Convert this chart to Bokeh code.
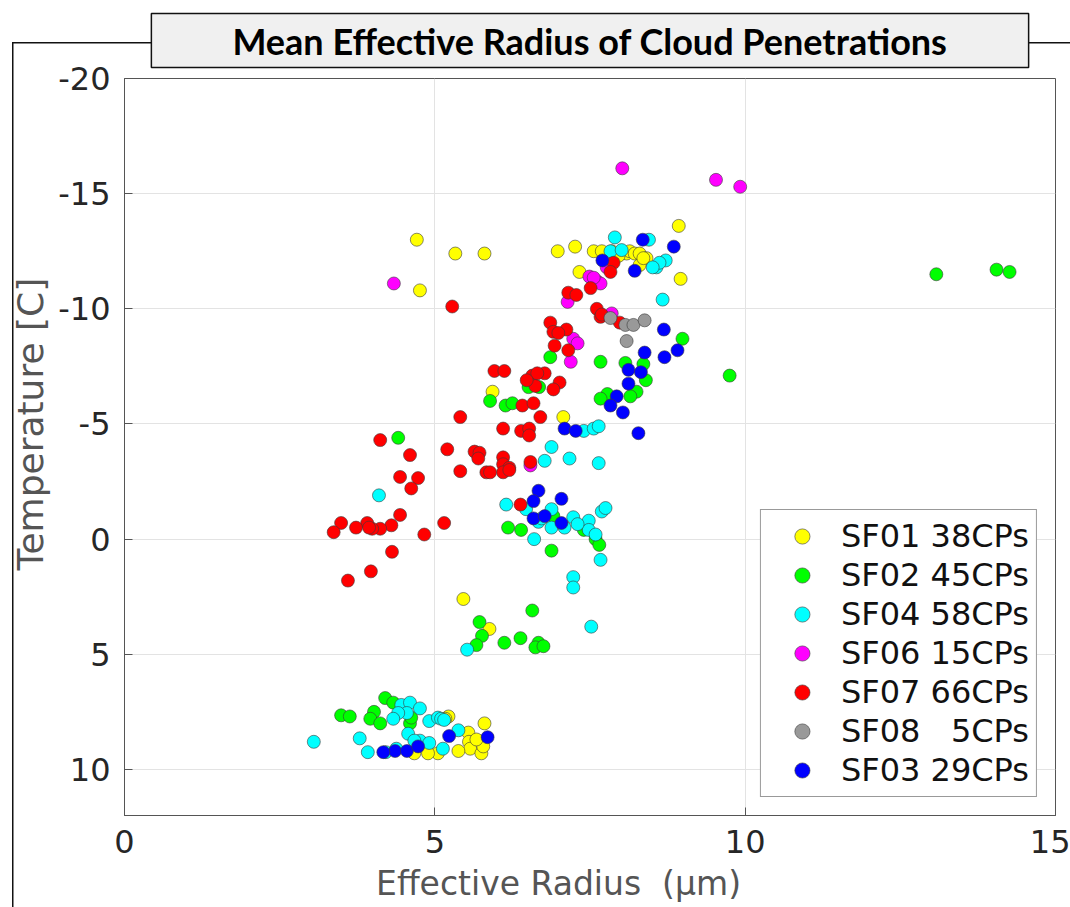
from bokeh.plotting import figure
from bokeh.models import Range1d, FixedTicker, Legend, LegendItem
from bokeh.embed import file_html
from bokeh.resources import INLINE

# ---------------- data (effective radius [um], temperature [C]) ----------------
sf01_x = [4.71, 4.76, 5.33, 5.80, 6.98, 7.26, 7.33, 7.56, 7.69, 8.01, 8.09, 8.14, 8.22, 8.30,
          8.41, 8.30, 8.93, 8.96, 7.07, 5.93, 5.46, 5.88, 5.22, 5.80, 5.54, 5.55, 5.57, 5.75,
          5.78, 5.05, 4.89, 4.67, 5.17, 7.85, 7.96, 5.38, 5.67, 8.36]
sf01_y = [-13.0, -10.8, -12.4, -12.4, -12.5, -12.7, -11.6, -12.5, -12.5, -12.4, -12.4, -12.5,
          -12.4, -12.4, -12.2, -11.9, -13.6, -11.3, -5.3, -6.4, 2.6, 3.9, 7.7, 8.0, 8.4, 8.8,
          9.1, 9.3, 9.0, 9.3, 9.3, 9.3, 7.8, -12.5, -12.3, 9.2, 8.7, -12.2]

sf02_x = [13.08, 14.05, 14.26, 9.75, 8.99, 6.86, 7.67, 8.07, 8.36, 8.40, 8.25, 8.15, 7.78, 7.67,
          6.51, 6.68, 5.89, 6.14, 6.25, 4.41, 6.18, 6.39, 6.88, 7.40, 7.59, 6.91, 5.72, 5.76,
          5.67, 6.12, 6.38, 6.57, 6.67, 6.62, 6.75, 4.20, 4.33, 3.49, 3.63, 4.02, 3.96, 4.12,
          4.60, 4.62, 7.65]
sf02_y = [-11.5, -11.7, -11.6, -7.1, -8.7, -7.9, -7.7, -7.65, -7.6, -6.9, -6.4, -6.2, -6.3, -6.1,
          -6.6, -6.6, -6.0, -5.8, -5.9, -4.4, -0.5, -0.4, 0.5, -0.4, 0.0, -1.0, 3.6, 4.2,
          4.6, 4.5, 4.3, 3.1, 4.5, 4.7, 4.65, 6.9, 7.1, 7.65, 7.7, 7.5, 7.8, 8.0,
          8.0, 7.75, 0.25]

sf04_x = [7.90, 7.83, 8.45, 8.57, 8.72, 8.62, 8.67, 7.40, 7.56, 7.64, 6.88, 7.17, 6.77, 7.64,
          6.15, 6.47, 6.88, 6.67, 6.88, 7.09, 7.23, 7.48, 7.48, 7.59, 7.69, 7.75, 6.60, 7.67,
          7.23, 7.23, 7.52, 5.52, 4.10, 3.05, 3.79, 3.92, 4.21, 4.46, 4.60, 4.55, 4.41, 4.76,
          4.57, 4.76, 4.91, 4.91, 5.05, 5.10, 5.15, 5.13, 5.38, 4.33, 4.67, 4.38, 6.72, 7.30,
          8.01, 8.51]
sf04_y = [-13.1, -12.5, -13.0, -11.8, -12.1, -12.0, -10.4, -4.7, -4.8, -4.9, -4.0, -3.5, -3.4, -3.3,
          -1.5, -1.3, -1.3, -0.75, -0.5, -0.5, -0.95, -0.8, -0.4, -0.2, -1.2, -1.35, 0.0, 0.9,
          1.65, 2.1, 3.8, 4.8, -1.9, 8.8, 8.65, 9.25, 9.25, 7.2, 7.1, 7.55, 7.55, 7.35,
          8.45, 8.75, 8.85, 7.9, 7.75, 7.8, 7.85, 9.1, 8.3, 7.8, 8.75, 9.1, -0.9, -0.65,
          -12.55, -11.8]

sf06_x = [4.34, 8.02, 9.53, 9.92, 7.49, 7.61, 7.67, 7.77, 7.14, 7.85, 7.23, 7.30, 7.19, 6.54, 7.56]
sf06_y = [-11.1, -16.1, -15.6, -15.3, -11.4, -11.2, -11.1, -11.8, -10.3, -9.8, -8.7, -8.5, -7.7,
          -3.2, -11.35]

sf07_x = [5.28, 7.88, 7.83, 7.51, 7.15, 7.28, 7.61, 7.67, 7.98, 6.86, 6.91, 7.12, 6.99, 6.93,
          7.15, 6.57, 6.62, 6.77, 7.01, 6.91, 6.41, 6.59, 6.70, 5.96, 6.12, 5.41, 6.10, 6.39,
          6.52, 6.52, 4.12, 4.60, 5.20, 4.44, 4.73, 4.62, 5.64, 5.72, 5.70, 5.41, 5.83, 5.89,
          6.10, 6.10, 6.20, 6.10, 6.20, 6.54, 6.38, 4.44, 4.30, 4.12, 3.99, 3.91, 3.94, 3.73,
          3.49, 3.37, 4.83, 5.15, 4.31, 3.97, 3.60, 7.69, 6.65, 6.48]
sf07_y = [-10.1, -12.0, -11.6, -10.9, -10.7, -10.6, -10.0, -9.65, -9.4, -9.4, -9.0, -9.1, -8.95, -8.4,
          -8.2, -7.1, -6.65, -7.2, -6.8, -6.5, -5.8, -5.9, -5.3, -7.3, -7.3, -5.3, -4.8, -4.7,
          -4.8, -4.5, -4.3, -3.65, -3.9, -2.7, -2.65, -2.2, -3.8, -3.75, -3.5, -2.95, -2.9, -2.9,
          -3.55, -3.25, -3.1, -2.9, -3.0, -3.35, -1.5, -1.05, -0.6, -0.45, -0.45, -0.7, -0.5, -0.5,
          -0.7, -0.3, -0.2, -0.7, 0.55, 1.4, 1.8, -9.75, -7.2, -6.9]

sf08_x = [7.83, 8.07, 8.20, 8.38, 8.09]
sf08_y = [-9.6, -9.3, -9.3, -9.5, -8.6]

sf03_x = [8.35, 8.85, 7.70, 8.22, 8.69, 8.38, 8.70, 8.91, 8.12, 8.32, 8.12, 7.93, 7.83, 8.03,
          8.28, 7.09, 7.27, 6.67, 6.59, 7.04, 6.59, 6.77, 7.04, 4.36, 4.55, 4.73, 5.23, 5.85, 4.17]
sf03_y = [-13.0, -12.7, -12.1, -11.65, -9.1, -8.1, -7.9, -8.2, -7.35, -7.25, -6.75, -6.2, -5.8, -5.5,
          -4.6, -4.8, -4.7, -2.1, -1.65, -1.75, -0.9, -1.0, -0.7, 9.2, 9.2, 9.0, 8.55, 8.6, 9.25]

series_names = ["SF01 38CPs", "SF02 45CPs", "SF04 58CPs", "SF06 15CPs", "SF07 66CPs",
                "SF08\u00a0\u00a0\u00a05CPs", "SF03 29CPs"]
series_colors = ["#ffff00", "#00ff00", "#00ffff", "#ff00ff", "#ff0000", "#999999", "#0000ff"]
series_x = [sf01_x, sf02_x, sf04_x, sf06_x, sf07_x, sf08_x, sf03_x]
series_y = [sf01_y, sf02_y, sf04_y, sf06_y, sf07_y, sf08_y, sf03_y]

x_ticks = [0, 5, 10, 15]
y_ticks = [-20, -15, -10, -5, 0, 5, 10]

title_text = "Mean Effective Radius of Cloud Penetrations"
x_label = "Effective Radius\u00a0 (\u03bcm)" + "\u00a0" * 6
y_label = "\u00a0" * 4 + "Temperature [C]"

FONT = "DejaVu Sans"

# ---------------- figure ----------------
# thin outer panel frame (left and top edges) painted behind a transparent border area
frame_css = {
    "background-image": "linear-gradient(#111111, #111111), linear-gradient(#111111, #111111)",
    "background-size": "1.5px 100%, 100% 1.5px",
    "background-position": "12px 42px, 12px 42px",
    "background-repeat": "no-repeat",
    "background-color": "white",
}

p = figure(width=1070, height=907, output_backend="svg", toolbar_location=None,
           x_range=Range1d(0, 15), y_range=Range1d(12, -20), styles=frame_css)
p.min_border_left = 124
p.min_border_right = 15
p.min_border_top = 78
p.min_border_bottom = 92
p.background_fill_color = "white"
p.border_fill_alpha = 0
p.outline_line_color = "#555555"
p.outline_line_width = 1

# boxed title
p.title.text = title_text
p.title.align = "center"
p.title.text_font = "Lato"
p.title.text_font_style = "bold"
p.title.text_font_size = "36px"
p.title.text_color = "#000000"
p.title.background_fill_color = "#f0f0f0"
p.title.border_line_color = "#111111"
p.title.border_line_width = 1.5
p.title.padding = dict(left=81, right=81, top=5, bottom=5)
p.title.standoff = 22

p.xaxis.ticker = FixedTicker(ticks=x_ticks)
p.yaxis.ticker = FixedTicker(ticks=y_ticks)
p.xaxis.major_label_overrides = {t: str(t) for t in x_ticks}
p.yaxis.major_label_overrides = {t: str(t) for t in y_ticks}
for ax in (p.xaxis[0], p.yaxis[0]):
    ax.major_label_text_font = FONT
    ax.major_label_text_font_size = "32px"
    ax.major_label_text_color = "#262626"
    ax.axis_label_text_font = FONT
    ax.axis_label_text_font_style = "normal"
    ax.axis_label_text_color = "#555555"
    ax.axis_line_color = "#555555"
    ax.major_tick_line_color = "#555555"
    ax.major_tick_in = 8
    ax.major_tick_out = 0
    ax.minor_tick_line_color = None
    ax.major_label_standoff = 14
p.xaxis.axis_label = x_label
p.yaxis.axis_label = y_label
p.xaxis.axis_label_text_font_size = "33px"
p.yaxis.axis_label_text_font_size = "36px"
p.xaxis.axis_label_standoff = 8
p.yaxis.axis_label_standoff = 4

p.xgrid.grid_line_color = "#e3e3e3"
p.ygrid.grid_line_color = "#e3e3e3"
p.xgrid.ticker = FixedTicker(ticks=x_ticks)
p.ygrid.ticker = FixedTicker(ticks=y_ticks)

items = []
for name, col, xs, ys in zip(series_names, series_colors, series_x, series_y):
    r = p.scatter(xs, ys, size=13, marker="circle", fill_color=col,
                  line_color="#3a3a3a", line_width=0.6)
    items.append(LegendItem(label=name, renderers=[r]))

legend = Legend(items=items, location="bottom_right")
legend.label_text_font = FONT
legend.label_text_font_size = "32px"
legend.label_text_color = "#111111"
legend.glyph_width = 68
legend.glyph_height = 38
legend.label_height = 38
legend.label_standoff = 5
legend.spacing = 1
legend.padding = 7
legend.margin = 18
legend.border_line_color = "#333333"
legend.border_line_width = 1
legend.background_fill_color = "white"
legend.background_fill_alpha = 1
p.add_layout(legend, "center")

open("out.html", "w").write(file_html(p, INLINE))
